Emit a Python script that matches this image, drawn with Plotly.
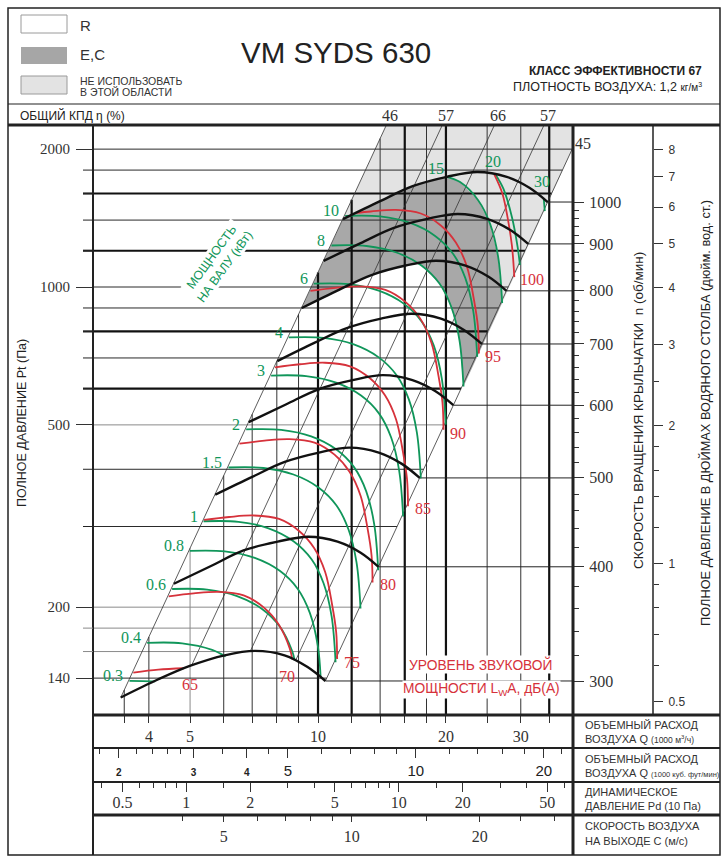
import math
import plotly.graph_objects as go

# ===================== values =====================
Q_RANGE = [2.955, 39.81]      # plot edges, air flow Q (1000 m3/h)
P_RANGE = [116.3, 2258.0]     # plot edges, total pressure Pt (Pa)

P_GRID = [140, 160, 180, 200, 300, 400, 500, 600, 700, 800, 900,
          1000, 1200, 1400, 1600, 1800, 2000]
P_LABELS = [140, 200, 500, 1000, 2000]
Q_GRID = [3.5, 4, 5, 6, 7, 8, 9, 10, 12, 14, 16, 18, 20, 25, 30, 35]
Q_LABELS = [4, 5, 10, 20, 30]

CFM_MAJOR = [2, 3, 4, 5, 10, 20]
CFM_SMALL = [2, 3, 4]
CFM_MINOR = [1.8, 2.2, 2.4, 2.6, 2.8, 3.5, 4.5, 6, 7, 8, 9, 12, 14, 16, 18, 22]
PD_MAJOR = [0.5, 1, 2, 5, 10, 20, 50]
PD_MINOR = [0.4, 0.6, 0.7, 0.8, 0.9, 1.5, 3, 4, 6, 7, 8, 9, 15, 30, 40, 60]
C_MAJOR = [5, 10, 20]
C_MINOR = [4, 6, 7, 8, 9, 15, 25, 30]
RPM_MAJOR = [300, 400, 500, 600, 700, 800, 900, 1000]
RPM_MINOR = [320, 340, 360, 380, 420, 440, 460, 480, 520, 540, 560, 580,
             620, 640, 660, 680, 720, 740, 760, 780, 820, 840, 860, 880,
             920, 940, 960, 980]
INCH_MAJOR = [0.5, 1, 2, 3, 4, 5, 6, 7, 8]
INCH_MINOR = [0.6, 0.7, 0.8, 0.9, 1.2, 1.4, 1.6, 1.8, 2.5]

PA_PER_INCH_WC = 249.09
M3H_PER_CFM = 1.699          # 1000 m3/h per 1000 cfm
Q_AT_PD_10PA = 4.9           # flow at which dynamic pressure = 10 Pa
C_PER_Q = 0.8329             # outlet velocity (m/s) per 1000 m3/h

# fan curves (rpm)
Q_1000 = [11.45, 14.0, 16.7, 20.1, 23.7, 27.8, 31.5, 34.7]
P_1000 = [1407, 1540, 1660, 1740, 1783, 1740, 1645, 1533]
Q_900 = [10.31, 12.6, 15.03, 18.09, 21.33, 25.02, 28.35, 31.23]
P_900 = [1140, 1247, 1345, 1409, 1444, 1409, 1332, 1242]
Q_800 = [9.16, 11.2, 13.36, 16.08, 18.96, 22.24, 25.2, 27.76]
P_800 = [900, 986, 1062, 1114, 1141, 1114, 1053, 981]
Q_700 = [8.02, 9.8, 11.69, 14.07, 16.59, 19.46, 22.05, 24.29]
P_700 = [689, 755, 813, 853, 874, 853, 806, 751]
Q_600 = [6.87, 8.4, 10.02, 12.06, 14.22, 16.68, 18.9, 20.82]
P_600 = [507, 554, 598, 626, 642, 626, 592, 552]
Q_500 = [5.73, 7.0, 8.35, 10.05, 11.85, 13.9, 15.75, 17.35]
P_500 = [352, 385, 415, 435, 446, 435, 411, 383]
Q_400 = [4.58, 5.6, 6.68, 8.04, 9.48, 11.12, 12.6, 13.88]
P_400 = [225, 246, 266, 278, 285, 278, 263, 245]
Q_300 = [3.435, 4.2, 5.01, 6.03, 7.11, 8.34, 9.45, 10.41]
P_300 = [127, 139, 149, 157, 160.5, 157, 148, 138]

# shaft power curves (kW)
KW0_3_Q = [3.600, 3.87, 4.14]
KW0_3_P = [138.0, 137.9, 137.7]
KW0_4_Q = [3.962, 4.789, 5.635, 6.06]
KW0_4_P = [167.2, 166.8, 161.4, 156.1]
KW0_6_Q = [4.536, 5.483, 6.451, 7.385, 8.144, 8.693, 8.81]
KW0_6_P = [219.1, 218.5, 211.5, 198.2, 181.0, 160.4, 153.1]
KW0_8_Q = [4.992, 6.034, 7.100, 8.128, 8.963, 9.567, 9.990, 10.144]
KW0_8_P = [265.4, 264.7, 256.2, 240.1, 219.2, 194.3, 164.7, 140.8]
KW1_Q = [5.378, 6.500, 7.649, 8.756, 9.656, 10.306, 10.763, 10.999]
KW1_P = [308.0, 307.2, 297.3, 278.6, 254.4, 225.5, 191.1, 151.6]
KW1_5_Q = [6.156, 7.441, 8.755, 10.023, 11.053, 11.797, 12.320, 12.590]
KW1_5_P = [403.6, 402.6, 389.6, 365.0, 333.4, 295.5, 250.4, 198.7]
KW2_Q = [6.776, 8.190, 9.637, 11.032, 12.166, 12.986, 13.561, 13.858]
KW2_P = [488.9, 487.7, 472.0, 442.2, 403.8, 358.0, 303.3, 240.7]
KW3_Q = [7.756, 9.375, 11.031, 12.628, 13.925, 14.864, 15.522, 15.862]
KW3_P = [640.7, 639.1, 618.5, 579.5, 529.2, 469.2, 397.5, 315.4]
KW4_Q = [8.536, 10.318, 12.140, 13.897, 15.326, 16.358, 17.083, 17.457]
KW4_P = [776.1, 774.2, 749.3, 702.0, 641.0, 568.3, 481.5, 382.1]
KW6_Q = [9.772, 11.811, 13.898, 15.910, 17.545, 18.727, 19.557, 19.985]
KW6_P = [1017, 1014.4, 981.8, 919.9, 840.0, 744.7, 631.0, 500.7]
KW8_Q = [10.756, 13.001, 15.297, 17.512, 19.311, 20.613, 21.526, 21.997]
KW8_P = [1232, 1228.9, 1189.4, 1114.3, 1017.6, 902.1, 764.3, 606.6]
KW10_Q = [11.586, 14.004, 16.478, 18.863, 20.801, 22.204, 23.187, 23.695]
KW10_P = [1429.6, 1426.0, 1380.1, 1293.0, 1180.8, 1046.8, 886.9, 703.8]
KW15_Q = [20.1, 21.594, 23.812, 25.417, 26.543, 27.124]
KW15_P = [1740, 1694.4, 1547.3, 1371.7, 1162.2, 922.3]
KW20_Q = [26.2, 27.3, 28.6, 29.5, 29.86]
KW20_P = [1757, 1640, 1420, 1220, 1117]
KW30_Q = [33.98, 34.17]
KW30_P = [1558, 1464]
KW_TOP_LABELS = ["15", "20", "30"]
KW_TOP_LABEL_Q = [18.95, 25.81, 33.65]
KW_TOP_LABEL_P = [1819, 1875, 1696]

# sound power level curves, dB(A)
DB65_Q = [3.676, 4.209, 4.836]
DB65_P = [143.9, 146.1, 147.1]
DB70_Q = [4.453, 5.099, 5.839, 6.685, 7.450, 8.082, 8.580, 8.696]
DB70_P = [211.2, 214.4, 216.0, 212.3, 199.8, 183.4, 162.6, 153.9]
DB75_Q = [5.395, 6.177, 7.074, 8.099, 9.026, 9.791, 10.395, 10.797, 11.033, 11.093]
DB75_P = [310, 314.7, 317.1, 311.6, 293.3, 269.2, 238.6, 202.2, 176.6, 154.2]
DB80_Q = [6.536, 7.484, 8.570, 9.812, 10.935, 11.862, 12.594, 13.081, 13.367, 13.439]
DB80_P = [455, 461.9, 465.4, 457.3, 430.5, 395.2, 350.2, 296.7, 259.2, 226.3]
DB85_Q = [7.920, 9.068, 10.385, 11.890, 13.250, 14.374, 15.260, 15.850, 16.197, 16.285]
DB85_P = [668, 678.2, 683.3, 671.3, 632.1, 580.2, 514.2, 435.6, 380.6, 332.2]
DB90_Q = [9.598, 10.990, 12.585, 14.408, 16.057, 17.419, 18.494, 19.208, 19.629, 19.735]
DB90_P = [981, 995.9, 1003.5, 985.9, 928.2, 852.0, 755.1, 639.7, 558.9, 487.9]
DB95_Q = [12.3, 13.314, 15.247, 17.456, 19.454, 21.104, 22.405, 23.271, 23.780, 23.909]
DB95_P = [1452, 1461.9, 1473.0, 1447.2, 1362.5, 1250.6, 1108.4, 939.0, 820.4, 716.1]
DB100_Q = [26.0, 27.15, 28.0, 28.6, 28.97]
DB100_P = [1759, 1600, 1400, 1230, 1051]
DB_LABELS = ["65", "70", "75", "80", "85", "90", "95", "100"]
DB_LABEL_Q = [5.0, 8.45, 12.02, 14.6, 17.66, 21.36, 25.81, 31.88]
DB_LABEL_P = [135.9, 140.8, 151.8, 223.6, 329.2, 480, 703.5, 1036]

# efficiency (system) lines: start point on the 300 rpm curve
ETA_Q0 = [3.435, 5.05, 6.92, 8.85, 10.41]
ETA_P0 = [127, 149.7, 159.8, 152.7, 138]
ETA_LABELS = ["46", "57", "66", "57", "45"]

# ===================== styles / layout constants =====================
SERIF = "Liberation Serif"
SANS = "Liberation Sans"
GREEN = "#10965a"
RED = "#d6323b"
INK = "#222222"
P_THICK = {600, 800, 1200, 1600}
P_GRAY = {160, 180, 200, 500}
Q_THICK = {10, 12, 16, 20, 35}
Q_GRAY = {5}

FIG_W, FIG_H = 725, 860
ML, MR, MT, MB = 8, 5, 8, 5
PW = FIG_W - ML - MR
PH = FIG_H - MT - MB


def px(x):
    return (x - ML) / PW


def py(y):
    return (FIG_H - MB - y) / PH


X0, X1 = math.log10(Q_RANGE[0]), math.log10(Q_RANGE[1])
Y0, Y1 = math.log10(P_RANGE[0]), math.log10(P_RANGE[1])
XD = [px(93), px(573)]
YD = [py(715), py(125)]


def ypaper(p):
    return YD[0] + (math.log10(p) - Y0) / (Y1 - Y0) * (YD[1] - YD[0])


K_LEFT = ETA_P0[0] / ETA_Q0[0] ** 2
K_RIGHT = ETA_P0[-1] / ETA_Q0[-1] ** 2

fig = go.Figure()


def add(q, p, color, width, shape="linear", **kw):
    fig.add_trace(go.Scatter(x=q, y=p, mode="lines",
                             line=dict(color=color, width=width, shape=shape),
                             hoverinfo="skip", showlegend=False, **kw))


def intersect(qa, pa, qb, pb):
    A = [(math.log10(a), math.log10(b)) for a, b in zip(qa, pa)]
    B = [(math.log10(a), math.log10(b)) for a, b in zip(qb, pb)]
    for i in range(len(A) - 1):
        for j in range(len(B) - 1):
            (x1, y1), (x2, y2) = A[i], A[i + 1]
            (x3, y3), (x4, y4) = B[j], B[j + 1]
            d = (x1 - x2) * (y3 - y4) - (y1 - y2) * (x3 - x4)
            if abs(d) < 1e-12:
                continue
            t = ((x1 - x3) * (y3 - y4) - (y1 - y3) * (x3 - x4)) / d
            u = -((x1 - x2) * (y1 - y3) - (y1 - y2) * (x1 - x3)) / d
            if 0 <= t <= 1 and 0 <= u <= 1:
                return i, j, 10 ** (x1 + t * (x2 - x1)), 10 ** (y1 + t * (y2 - y1))
    return None


# ---------- shaded zones ----------
top_part_q = [q for q in Q_1000 if q < KW15_Q[0]]
top_part_p = P_1000[:len(top_part_q)]
q_tl = math.sqrt(P_RANGE[1] * 1.05 / K_LEFT)
q_edge = Q_RANGE[1] * 1.03
light_q = [Q_1000[0], q_tl, q_edge, q_edge] + KW15_Q[::-1] + top_part_q[::-1]
light_p = [P_1000[0], P_RANGE[1] * 1.05, P_RANGE[1] * 1.05, K_RIGHT * q_edge ** 2] + \
    KW15_P[::-1] + top_part_p[::-1]
fig.add_trace(go.Scatter(x=light_q, y=light_p, mode="lines", fill="toself",
                         fillcolor="#e3e3e3", line=dict(width=0),
                         hoverinfo="skip", showlegend=False))

i8, j8, qi, pi = intersect(Q_800, P_800, KW8_Q, KW8_P)
dark_q = Q_800[:i8 + 1] + [qi] + KW8_Q[j8 + 1:] + KW15_Q[::-1] + top_part_q[::-1] + [Q_800[0]]
dark_p = P_800[:i8 + 1] + [pi] + KW8_P[j8 + 1:] + KW15_P[::-1] + top_part_p[::-1] + [P_800[0]]
fig.add_trace(go.Scatter(x=dark_q, y=dark_p, mode="lines", fill="toself",
                         fillcolor="#a8a8a8", line=dict(width=0),
                         hoverinfo="skip", showlegend=False))

# ---------- grid ----------
def seg_trace(segs, color, width):
    xs, ys = [], []
    for (a, b) in segs:
        xs += a + [None]
        ys += b + [None]
    add(xs, ys, color, width)


h_norm, h_thick, h_gray = [], [], []
for p in P_GRID:
    q_end = min(Q_RANGE[1], math.sqrt(p / K_RIGHT))
    s = ([Q_RANGE[0], q_end], [p, p])
    (h_thick if p in P_THICK else h_gray if p in P_GRAY else h_norm).append(s)
v_norm, v_thick, v_gray = [], [], []
for q in Q_GRID:
    p_end = min(P_RANGE[1], K_LEFT * q * q)
    s = ([q, q], [P_RANGE[0], p_end])
    (v_thick if q in Q_THICK else v_gray if q in Q_GRAY else v_norm).append(s)
seg_trace(h_gray, "#8a8a8a", 1)
seg_trace(v_gray, "#8a8a8a", 1)
seg_trace(h_norm, "#2a2a2a", 1)
seg_trace(v_norm, "#333333", 1)
seg_trace(h_thick, "#111111", 2.2)
seg_trace(v_thick, "#111111", 2.2)

eta_segs = []
eta_tops = []
for q0, p0 in zip(ETA_Q0, ETA_P0):
    k = p0 / q0 ** 2
    qt = math.sqrt(P_RANGE[1] / k)
    if qt > Q_RANGE[1]:
        end = (Q_RANGE[1], k * Q_RANGE[1] ** 2)
    else:
        end = (qt, P_RANGE[1])
    eta_tops.append(qt)
    eta_segs.append(([q0, end[0]], [p0, end[1]]))
seg_trace(eta_segs, "#333333", 0.8)

RPM_CURVES = [(Q_1000, P_1000), (Q_900, P_900), (Q_800, P_800), (Q_700, P_700),
              (Q_600, P_600), (Q_500, P_500), (Q_400, P_400), (Q_300, P_300)]
seg_trace([([q[-1], Q_RANGE[1]], [p[-1], p[-1]]) for q, p in RPM_CURVES], "#222222", 1)

# ---------- curves ----------
KW_START = [(KW0_3_Q, KW0_3_P, "0.3"), (KW0_4_Q, KW0_4_P, "0.4"), (KW0_6_Q, KW0_6_P, "0.6"),
            (KW0_8_Q, KW0_8_P, "0.8"), (KW1_Q, KW1_P, "1"), (KW1_5_Q, KW1_5_P, "1.5"),
            (KW2_Q, KW2_P, "2"), (KW3_Q, KW3_P, "3"), (KW4_Q, KW4_P, "4"),
            (KW6_Q, KW6_P, "6"), (KW8_Q, KW8_P, "8"), (KW10_Q, KW10_P, "10")]
for q, p, _ in KW_START:
    add(q, p, GREEN, 1.8, "spline")
for q, p in [(KW15_Q, KW15_P), (KW20_Q, KW20_P), (KW30_Q, KW30_P)]:
    add(q, p, GREEN, 1.8, "spline")
for q, p in [(DB65_Q, DB65_P), (DB70_Q, DB70_P), (DB75_Q, DB75_P), (DB80_Q, DB80_P),
             (DB85_Q, DB85_P), (DB90_Q, DB90_P), (DB95_Q, DB95_P), (DB100_Q, DB100_P)]:
    add(q, p, RED, 1.8, "spline")
for q, p in RPM_CURVES:
    add(q, p, "#111111", 2.4, "spline")

# dummy traces so that the extra axes are drawn
fig.add_trace(go.Scatter(x=[10], y=[500], xaxis="x", yaxis="y2", mode="markers",
                         marker=dict(opacity=0), hoverinfo="skip", showlegend=False))
fig.add_trace(go.Scatter(x=[10], y=[1], xaxis="x", yaxis="y3", mode="markers",
                         marker=dict(opacity=0), hoverinfo="skip", showlegend=False))
for ax, v in [("x2", 5), ("x3", 5), ("x4", 10)]:
    fig.add_trace(go.Scatter(x=[v], y=[500], xaxis=ax, yaxis="y", mode="markers",
                             marker=dict(opacity=0), hoverinfo="skip", showlegend=False))

# ---------- shapes (frame, boxes, tick stubs) ----------
shapes = []


def hline(y, x0, x1, w, c=INK):
    shapes.append(dict(type="line", xref="paper", yref="paper", x0=px(x0), x1=px(x1),
                       y0=py(y), y1=py(y), line=dict(color=c, width=w)))


def vline(x, y0, y1, w, c=INK):
    shapes.append(dict(type="line", xref="paper", yref="paper", x0=px(x), x1=px(x),
                       y0=py(y0), y1=py(y1), line=dict(color=c, width=w)))


def rect(x0, y0, x1, y1, fill, line_c=None, w=1):
    shapes.append(dict(type="rect", xref="paper", yref="paper", x0=px(x0), x1=px(x1),
                       y0=py(y1), y1=py(y0), fillcolor=fill,
                       line=dict(color=line_c or fill, width=w if line_c else 0)))


rect(8, 8, 720, 855, "rgba(0,0,0,0)", "#222", 1.5)
hline(104, 8, 720, 1.2)
hline(125, 8, 720, 3)
hline(715, 93, 720, 3)
hline(748, 93, 720, 2)
hline(782, 93, 720, 2)
hline(815, 93, 720, 3)
vline(93, 125, 855, 2)
vline(573, 125, 855, 3)
vline(653, 125, 715, 1.5)
rect(21, 15, 67, 33, "white", "#9a9a9a", 1)
rect(21, 47, 67, 64, "#a6a6a6")
rect(21, 76, 67, 94, "#e3e3e3", "#9a9a9a", 1)

for p in P_GRID:
    if p in P_LABELS:
        continue
    w = 2.2 if p in P_THICK else 1
    c = "#8a8a8a" if p in P_GRAY else "#222"
    shapes.append(dict(type="line", xref="paper", yref="paper", x0=px(83), x1=px(93),
                       y0=ypaper(p), y1=ypaper(p), line=dict(color=c, width=w)))

# ---------- annotations ----------
ann = []


def note(x, y, s, size, color=INK, family=SANS, xa="left", ya="middle", angle=0,
         bg=None, xref="paper", yref="paper", xshift=0, yshift=0, align="left"):
    d = dict(x=x, y=y, xref=xref, yref=yref, text=s, showarrow=False, xanchor=xa,
             yanchor=ya, textangle=angle, font=dict(family=family, size=size, color=color),
             xshift=xshift, yshift=yshift, align=align, borderpad=0)
    if bg:
        d["bgcolor"] = bg
    ann.append(d)


note(px(79), py(26), "R", 15, "#333")
note(px(79), py(55), "E,C", 15, "#333")
note(px(79), py(81), "НЕ ИСПОЛЬЗОВАТЬ", 10.5, "#333")
note(px(79), py(92), "В ЭТОЙ ОБЛАСТИ", 10.5, "#333")
note(px(336), py(52), "VM SYDS 630", 29.5, "#222", xa="center")
note(px(703), py(71), "<b>КЛАСС ЭФФЕКТИВНОСТИ 67</b>", 12, "#222", xa="right")
note(px(703), py(87), "ПЛОТНОСТЬ ВОЗДУХА: 1,2 <span style='font-size:10px'>кг/м<sup>3</sup></span>",
     12.5, "#222", xa="right")
note(px(19), py(116), "ОБЩИЙ КПД η (%)", 12, "#222")

note(px(22), py(423), "ПОЛНОЕ ДАВЛЕНИЕ Pt (Па)", 12.5, "#222", xa="center", angle=-90)
note(px(638), py(411), "СКОРОСТЬ ВРАЩЕНИЯ КРЫЛЬЧАТКИ  n (об/мин)", 13.5, "#222",
     xa="center", angle=-90)
note(px(705), py(413), "ПОЛНОЕ ДАВЛЕНИЕ В ДЮЙМАХ ВОДЯНОГО СТОЛБА (дюйм. вод. ст.)", 12.8,
     "#222", xa="center", angle=-90)

note(px(584), py(725), "ОБЪЕМНЫЙ РАСХОД", 11, "#333")
note(px(584), py(739), "ВОЗДУХА Q <span style='font-size:8.5px'>(1000 м<sup>3</sup>/ч)</span>", 11, "#333")
note(px(584), py(759), "ОБЪЕМНЫЙ РАСХОД", 11, "#333")
note(px(584), py(773), "ВОЗДУХА Q <span style='font-size:7.5px'>(1000 куб. фут/мин)</span>", 11, "#333")
note(px(584), py(792), "ДИНАМИЧЕСКОЕ", 11, "#333")
note(px(584), py(806), "ДАВЛЕНИЕ Pd (10 Па)", 11, "#333")
note(px(584), py(826), "СКОРОСТЬ ВОЗДУХА", 11, "#333")
note(px(584), py(841), "НА ВЫХОДЕ C (м/с)", 11, "#333")

for i in range(4):
    note(math.log10(eta_tops[i]), py(115), ETA_LABELS[i], 16, "#333", SERIF, xa="center",
         xref="x", xshift=4)
note(px(583), py(144), ETA_LABELS[4], 16, "#333", SERIF, xa="center")

for q, p, lab in KW_START:
    note(math.log10(q[0]), math.log10(p[0]), lab, 16, GREEN, SERIF, xa="right",
         xref="x", yref="y", xshift=-5, yshift=5)
for lab, q, p in zip(KW_TOP_LABELS, KW_TOP_LABEL_Q, KW_TOP_LABEL_P):
    note(math.log10(q), math.log10(p), lab, 16, GREEN, SERIF, xa="center", xref="x", yref="y")
for lab, q, p in zip(DB_LABELS, DB_LABEL_Q, DB_LABEL_P):
    note(math.log10(q), math.log10(p), lab, 16, RED, SERIF, xa="center", xref="x", yref="y")

note(px(218), py(262), "МОЩНОСТЬ<br>НА ВАЛУ (кВт)", 12.5, GREEN, SANS, xa="center",
     angle=-54, bg="white", align="center")
note(px(481), py(664), "УРОВЕНЬ ЗВУКОВОЙ", 13.8, RED, SANS, xa="center", bg="white")
note(px(481), py(689), "МОЩНОСТИ L<sub>W</sub>A, дБ(A)", 13.8, RED, SANS, xa="center", bg="white")

# ---------- axes ----------
L_END = math.log10(P_1000[-1])
LIN = math.log10(PA_PER_INCH_WC)
num_font = dict(family=SERIF, size=16, color="#333")
base = dict(showgrid=False, zeroline=False, showline=False, tickcolor="#333",
            tickwidth=1, ticks="outside", tickmode="array")

xaxis = dict(base, domain=XD, type="log", range=[X0, X1], anchor="y",
             tickvals=Q_LABELS, ticktext=[f"{v:g}" for v in Q_LABELS],
             minor=dict(tickvals=[v for v in Q_GRID if v not in Q_LABELS], ticklen=7,
                        ticks="outside", tickcolor="#333"),
             ticklen=7, tickfont=num_font, ticklabelstandoff=0)
yaxis = dict(base, domain=YD, type="log", range=[Y0, Y1], anchor="x",
             tickvals=P_LABELS, ticktext=[str(v) for v in P_LABELS], ticklen=16,
             tickfont=dict(family=SERIF, size=15, color="#333"), ticklabelstandoff=3)
yaxis2 = dict(base, overlaying="y", anchor="free", position=XD[1], side="right", type="log",
              range=[3 + (Y0 - L_END) / 2, 3 + (Y1 - L_END) / 2],
              tickvals=RPM_MAJOR, ticktext=[str(v) for v in RPM_MAJOR], ticklen=10,
              minor=dict(tickvals=RPM_MINOR, ticklen=5, ticks="outside", tickcolor="#333"),
              tickfont=num_font, ticklabelstandoff=2)
yaxis3 = dict(base, overlaying="y", anchor="free", position=px(653), side="right", type="log",
              range=[Y0 - LIN, Y1 - LIN], tickvals=INCH_MAJOR,
              ticktext=[f"{v:g}" for v in INCH_MAJOR], ticklen=9,
              minor=dict(tickvals=INCH_MINOR, ticklen=5, ticks="outside", tickcolor="#333"),
              tickfont=dict(family=SANS, size=12, color="#333"), ticklabelstandoff=3)
LC = math.log10(M3H_PER_CFM)
xaxis2 = dict(base, overlaying="x", anchor="free", position=py(748), side="bottom", type="log",
              range=[X0 - LC, X1 - LC], tickvals=CFM_MAJOR,
              ticktext=[("<b><span style='font-size:10px'>%g</span></b>" % v) if v in CFM_SMALL
                        else ("%g" % v) for v in CFM_MAJOR],
              ticklen=9, minor=dict(tickvals=CFM_MINOR, ticklen=5, ticks="outside", tickcolor="#333"),
              tickfont=dict(family=SANS, size=15, color="#222"), ticklabelstandoff=0)
LP = math.log10(Q_AT_PD_10PA)
xaxis3 = dict(base, overlaying="x", anchor="free", position=py(782), side="bottom", type="log",
              range=[2 * (X0 - LP), 2 * (X1 - LP)], tickvals=PD_MAJOR,
              ticktext=[f"{v:g}" for v in PD_MAJOR], ticklen=9,
              minor=dict(tickvals=PD_MINOR, ticklen=5, ticks="outside", tickcolor="#333"),
              tickfont=num_font, ticklabelstandoff=-3)
LV = math.log10(C_PER_Q)
xaxis4 = dict(base, overlaying="x", anchor="free", position=py(815), side="bottom", type="log",
              range=[X0 + LV, X1 + LV], tickvals=C_MAJOR,
              ticktext=[f"{v:g}" for v in C_MAJOR], ticklen=6,
              minor=dict(tickvals=C_MINOR, ticklen=5, ticks="outside", tickcolor="#333"),
              tickfont=num_font, ticklabelstandoff=1)

fig.update_layout(width=FIG_W, height=FIG_H,
                  margin=dict(l=ML, r=MR, t=MT, b=MB, pad=0),
                  paper_bgcolor="white", plot_bgcolor="white",
                  showlegend=False, hovermode=False,
                  xaxis=xaxis, yaxis=yaxis, yaxis2=yaxis2, yaxis3=yaxis3,
                  xaxis2=xaxis2, xaxis3=xaxis3, xaxis4=xaxis4,
                  shapes=shapes, annotations=ann)

fig.write_html("out.html",
               config={"displayModeBar": False, "staticPlot": True},
               post_script="document.body.style.margin='0';document.body.style.padding='0';")
